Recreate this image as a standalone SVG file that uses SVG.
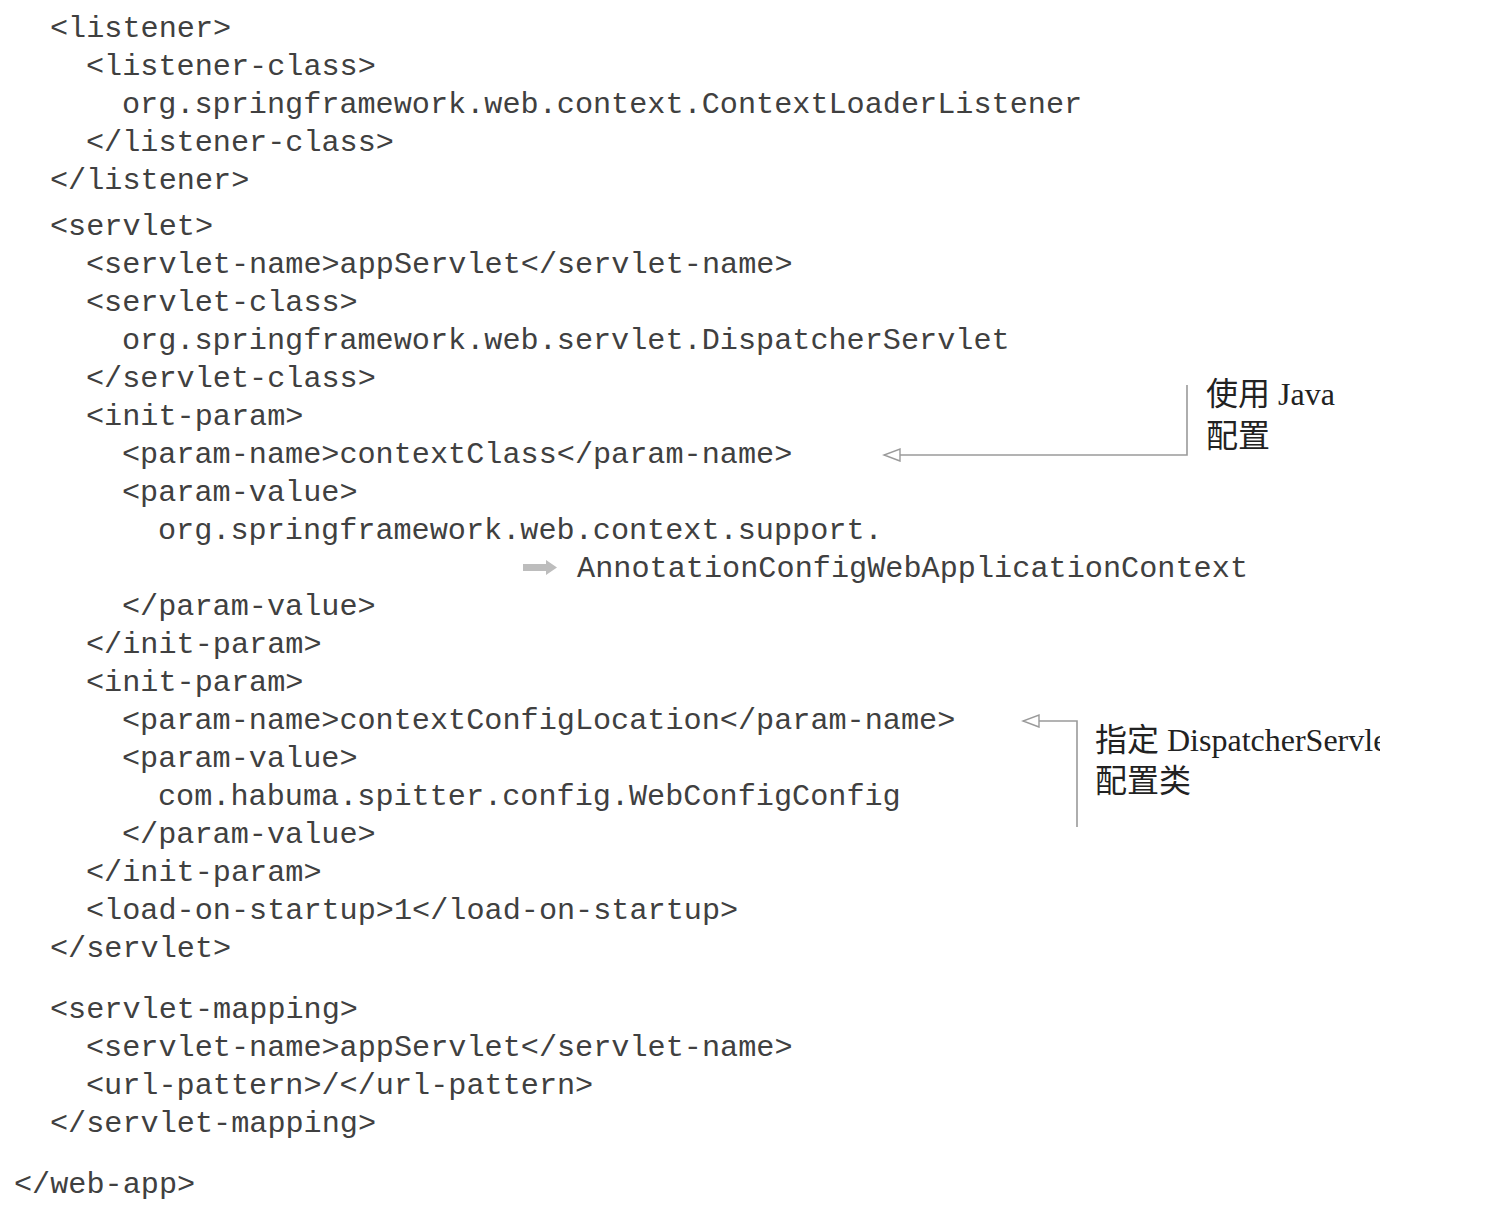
<svg xmlns="http://www.w3.org/2000/svg" width="1508" height="1214" viewBox="0 0 1508 1214">
  <style>
    .code { font-family: "Liberation Mono", "Courier New", monospace; font-size: 30.2px; fill: #404040; }
    .note { font-family: "Liberation Serif", "Noto Sans CJK SC", serif; font-size: 32px; fill: #222222; }
    .conn { fill: none; stroke: #9a9a9a; stroke-width: 1.6; }
  </style>
  <defs>
    <marker id="openTri" markerUnits="userSpaceOnUse" markerWidth="20" markerHeight="16" refX="17" refY="7" orient="auto" viewBox="0 0 20 16">
      <path d="M1,1 L17,7 L1,13 Z" fill="#ffffff" stroke="#9a9a9a" stroke-width="1.4"/>
    </marker>
    <clipPath id="clipRight" clipPathUnits="userSpaceOnUse">
      <rect x="0" y="0" width="1380" height="1214"/>
    </clipPath>
  </defs>
  <rect width="1508" height="1214" fill="#ffffff"/>

  <g id="code" transform="translate(0,2)">
    <text class="code" x="50" y="35">&lt;listener&gt;</text>
    <text class="code" x="86" y="73">&lt;listener-class&gt;</text>
    <text class="code" x="122" y="111">org.springframework.web.context.ContextLoaderListener</text>
    <text class="code" x="86" y="149">&lt;/listener-class&gt;</text>
    <text class="code" x="50" y="187">&lt;/listener&gt;</text>
    <text class="code" x="50" y="233">&lt;servlet&gt;</text>
    <text class="code" x="86" y="271">&lt;servlet-name&gt;appServlet&lt;/servlet-name&gt;</text>
    <text class="code" x="86" y="309">&lt;servlet-class&gt;</text>
    <text class="code" x="122" y="347">org.springframework.web.servlet.DispatcherServlet</text>
    <text class="code" x="86" y="385">&lt;/servlet-class&gt;</text>
    <text class="code" x="86" y="423">&lt;init-param&gt;</text>
    <text class="code" x="122" y="461">&lt;param-name&gt;contextClass&lt;/param-name&gt;</text>
    <text class="code" x="122" y="499">&lt;param-value&gt;</text>
    <text class="code" x="158" y="537">org.springframework.web.context.support.</text>
    <polygon id="continuation" points="523,562 546,562 546,558 557,565.5 546,573 546,569 523,569" fill="#bdbdbd"/>
    <text class="code" x="577" y="575" textLength="671" lengthAdjust="spacing">AnnotationConfigWebApplicationContext</text>
    <text class="code" x="122" y="613">&lt;/param-value&gt;</text>
    <text class="code" x="86" y="651">&lt;/init-param&gt;</text>
    <text class="code" x="86" y="689">&lt;init-param&gt;</text>
    <text class="code" x="122" y="727">&lt;param-name&gt;contextConfigLocation&lt;/param-name&gt;</text>
    <text class="code" x="122" y="765">&lt;param-value&gt;</text>
    <text class="code" x="158" y="803">com.habuma.spitter.config.WebConfigConfig</text>
    <text class="code" x="122" y="841">&lt;/param-value&gt;</text>
    <text class="code" x="86" y="879">&lt;/init-param&gt;</text>
    <text class="code" x="86" y="917">&lt;load-on-startup&gt;1&lt;/load-on-startup&gt;</text>
    <text class="code" x="50" y="955">&lt;/servlet&gt;</text>
    <text class="code" x="50" y="1016">&lt;servlet-mapping&gt;</text>
    <text class="code" x="86" y="1054">&lt;servlet-name&gt;appServlet&lt;/servlet-name&gt;</text>
    <text class="code" x="86" y="1092">&lt;url-pattern&gt;/&lt;/url-pattern&gt;</text>
    <text class="code" x="50" y="1130">&lt;/servlet-mapping&gt;</text>
    <text class="code" x="14" y="1191">&lt;/web-app&gt;</text>
  </g>

  <g id="connectors">
    <path class="conn" d="M1187,385 V455 H884" marker-end="url(#openTri)"/>
    <path class="conn" d="M1077,827 V721 H1023" marker-end="url(#openTri)"/>
  </g>

  <g id="note-java-config">
    <text class="note" x="1206" y="405">使用 Java</text>
    <text class="note" x="1206" y="447">配置</text>
  </g>

  <g id="note-dispatcher-config" clip-path="url(#clipRight)">
    <text class="note" x="1095" y="751">指定 DispatcherServlet</text>
    <text class="note" x="1095" y="792">配置类</text>
  </g>
</svg>
